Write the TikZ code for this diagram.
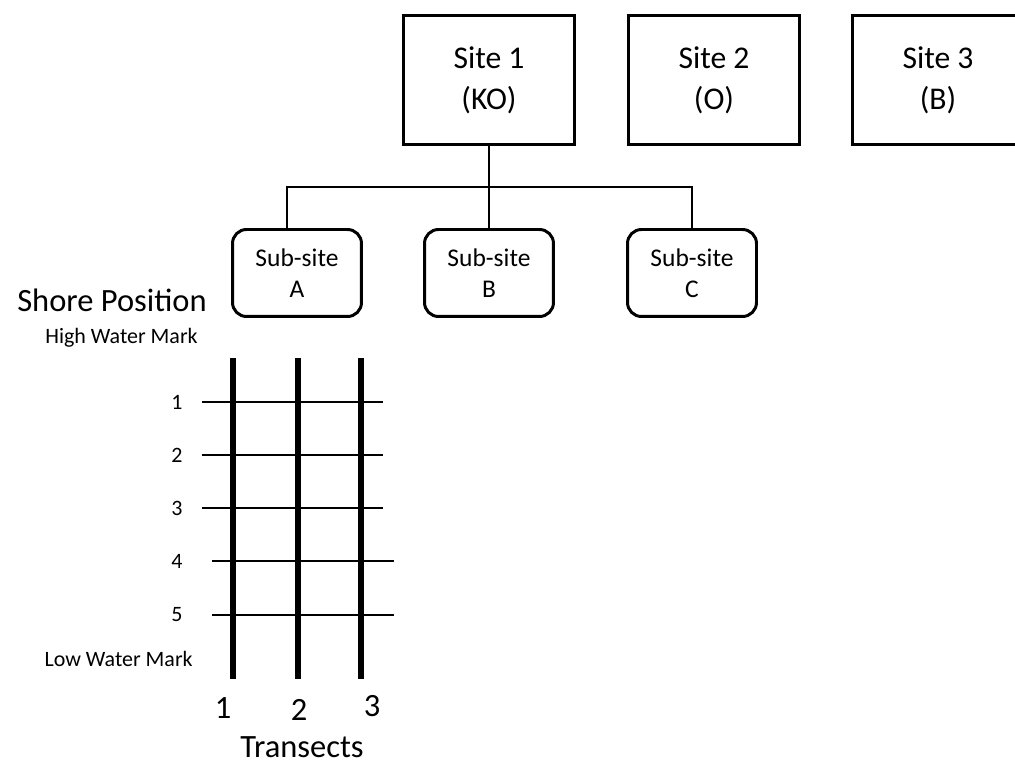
\documentclass[tikz,border=0pt]{standalone}
\usepackage{fontspec}
\setmainfont{Carlito}
\begin{document}
\begin{tikzpicture}[x=0.02cm, y=-0.02cm,
		sitebox/.style={draw=black, line width=1.7pt, shape=rectangle, minimum width=3.44cm, minimum height=2.6cm, align=center, font=\fontsize{18}{23.3}\selectfont},
		subbox/.style={draw=black, line width=1.7pt, shape=rectangle, rounded corners=0.28cm, minimum width=2.58cm, minimum height=1.74cm, align=center, font=\fontsize{14.5}{17.6}\selectfont},
		link/.style={draw=black, line width=1.7pt},
		transect/.style={draw=black, line width=3.3pt},
		level/.style={draw=black, line width=0.7pt},
		bigtext/.style={inner sep=0pt, font=\fontsize{18.5}{22}\selectfont},
		smalltext/.style={inner sep=0pt, font=\fontsize{12.5}{15}\selectfont}]
	\useasboundingbox (0,0) rectangle (1015,763);
	\clip (0,0) rectangle (1015,763);

	\node[sitebox] (s_1) at (489,80) {Site 1\\(KO)};
	\node[sitebox] (s_2) at (714,80) {Site 2\\(O)};
	\node[sitebox] (s_3) at (938,80) {Site 3\\(B)};

	\node[subbox] (sub_a) at (297,273) {Sub-site\\A};
	\node[subbox] (sub_b) at (489,273) {Sub-site\\B};
	\node[subbox] (sub_c) at (692,273) {Sub-site\\C};

	\coordinate (bar) at (489,187);
	\draw[link] (s_1.south) -- (sub_b.north);
	\draw[link] ([xshift=-0.2cm]sub_a.north) |- (bar) -| (sub_c.north);

	\node[bigtext, anchor=base east] (shore) at (207,312) {Shore Position};
	\node[smalltext, anchor=base east] (hwm) at (198,344) {High Water Mark};
	\node[smalltext, anchor=base east] (lwm) at (193,666) {Low Water Mark};

	\foreach \i/\y/\a/\b in {1/402/202/383, 2/455/202/383, 3/508/202/383, 4/561/212/394, 5/615/212/394} {
		\node[smalltext] (row_\i) at (177,\y) {\i};
		\coordinate (rs_\i) at (\a,\y);
		\coordinate (re_\i) at (\b,\y);
		\draw[level] (rs_\i) -- (re_\i);
	}

	\foreach \i/\x in {1/233, 2/298, 3/361} {
		\coordinate (top_\i) at (\x,358);
		\coordinate (bot_\i) at (\x,679);
		\draw[transect] (top_\i) -- (bot_\i);
	}

	\node[bigtext] (t_1) at (223,708) {1};
	\node[bigtext] (t_2) at (299,710) {2};
	\node[bigtext] (t_3) at (372,706) {3};
	\node[bigtext, anchor=base] (transects) at (302,757) {Transects};
\end{tikzpicture}
\end{document}
